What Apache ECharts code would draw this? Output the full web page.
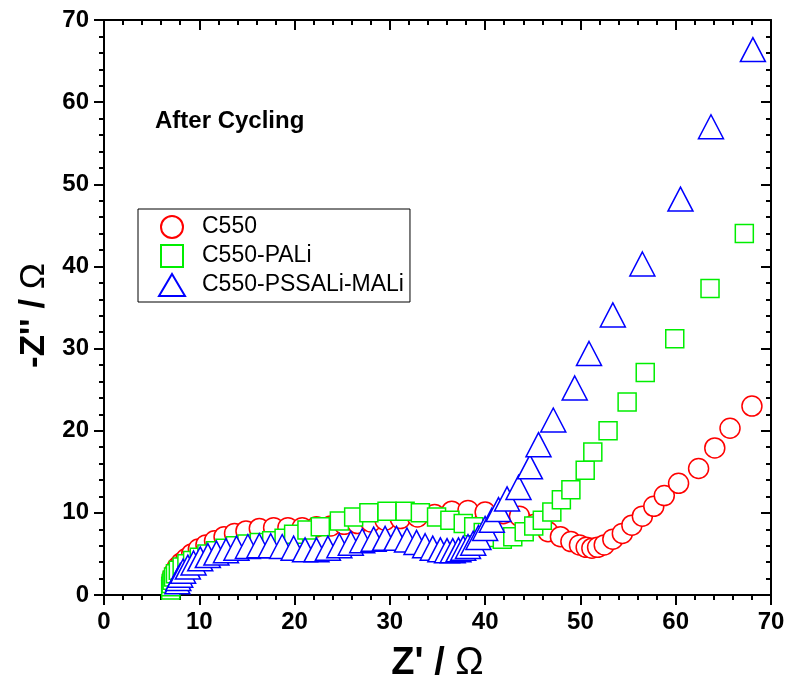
<!DOCTYPE html>
<html>
<head>
<meta charset="utf-8">
<style>
  html, body { margin: 0; background: #fff; }
  #container { width: 793px; height: 684px; }
</style>
</head>
<body>
<div id="container"></div>
<script src="https://cdn.jsdelivr.net/npm/echarts@6/dist/echarts.min.js"></script>
<script>
// series names (legend order)
var seriesNames = ['C550', 'C550-PALi', 'C550-PSSALi-MALi'];

// Nyquist data: [Z', -Z'']
var c550 = [
  [7.1, 1.8], [7.2, 2.3], [7.4, 2.8], [7.7, 3.4], [8.1, 3.9], [8.6, 4.4], [9.2, 5.0],
  [9.9, 5.6], [10.7, 6.1], [11.6, 6.6], [12.6, 7.1], [13.7, 7.5], [14.9, 7.8], [16.3, 8.1],
  [17.8, 8.2], [19.3, 8.2], [20.8, 8.2], [22.3, 8.3], [23.8, 8.4], [25.2, 8.6], [26.6, 8.7],
  [28.0, 8.9], [29.5, 9.1], [31.1, 9.3], [32.9, 9.5], [34.7, 9.8], [36.5, 10.2], [38.2, 10.3],
  [40.0, 10.1], [41.9, 9.9], [43.6, 9.6], [45.2, 8.6], [46.6, 7.7], [47.9, 7.1], [49.0, 6.5],
  [49.9, 6.1], [50.6, 5.8], [51.2, 5.7], [51.8, 5.8], [52.5, 6.1], [53.4, 6.8], [54.4, 7.5],
  [55.4, 8.5], [56.5, 9.6], [57.7, 10.8], [58.8, 12.1], [60.3, 13.6], [62.4, 15.4],
  [64.1, 17.9], [65.7, 20.3], [68.0, 23.0]
];
var c550PALi = [
  [7.0, 0.6], [7.0, 1.0], [7.05, 1.4], [7.15, 1.8], [7.3, 2.2], [7.5, 2.6], [7.8, 3.0],
  [8.2, 3.4], [8.7, 3.8], [9.3, 4.2], [10.0, 4.6], [10.8, 5.0], [11.7, 5.4], [12.7, 5.7],
  [13.8, 6.0], [15.0, 6.2], [16.3, 6.4], [17.6, 6.6], [18.9, 6.9], [19.9, 7.4], [21.3, 7.9],
  [22.7, 8.3], [24.7, 9.0], [26.2, 9.5], [27.8, 10.0], [29.7, 10.2], [31.6, 10.2], [33.2, 10.0],
  [34.9, 9.5], [36.3, 9.1], [37.7, 8.7], [38.8, 8.3], [39.8, 7.6], [40.8, 7.0], [41.8, 6.8],
  [42.9, 7.1], [44.1, 7.7], [45.1, 8.4], [46.0, 9.1], [47.0, 10.1], [48.0, 11.6],
  [49.0, 12.8], [50.5, 15.2], [51.3, 17.4], [52.9, 20.0], [54.9, 23.5], [56.8, 27.1],
  [59.9, 31.2], [63.6, 37.3], [67.2, 44.0]
];
var c550PSSALi = [
  [7.7, 1.6], [7.8, 2.0], [8.0, 2.4], [8.3, 2.9], [8.8, 3.4], [9.4, 3.9], [10.1, 4.4],
  [10.9, 4.8], [11.8, 5.1], [12.8, 5.4], [13.9, 5.7], [15.1, 5.9], [16.3, 6.0], [17.5, 6.0],
  [18.7, 5.9], [19.9, 5.7], [21.1, 5.5], [22.3, 5.5], [23.5, 5.7], [24.7, 6.0], [25.9, 6.3],
  [27.1, 6.6], [28.3, 6.8], [29.5, 6.9], [30.7, 6.9], [31.8, 6.7], [32.8, 6.4], [33.7, 6.0],
  [34.5, 5.7], [35.3, 5.5], [36.0, 5.4], [36.6, 5.4], [37.2, 5.5], [37.7, 5.7], [38.2, 5.9],
  [38.75, 6.3], [39.3, 7.0], [40.0, 8.1], [40.7, 9.1], [41.4, 10.4], [42.3, 11.7],
  [43.5, 13.1], [44.7, 15.6], [45.6, 18.3], [47.15, 21.3], [49.4, 25.2], [50.9, 29.4],
  [53.4, 34.1], [56.5, 40.3], [60.5, 48.2], [63.7, 57.0], [68.1, 66.4]
];

var chart = echarts.init(document.getElementById('container'), null, { renderer: 'canvas' });
var font = '"Liberation Sans", Arial, sans-serif';

// one axis of the box frame; labelled axes have ticks outside, mirrored ones inside
function frameAxis(pos, labelled, extra) {
  var ax = {
    type: 'value',
    position: pos,
    min: 0,
    max: 70,
    interval: 10,
    axisLine: { show: true, onZero: false, lineStyle: { color: '#000', width: 2 } },
    axisTick: { show: true, inside: !labelled, length: 10, lineStyle: { color: '#000', width: 2 } },
    minorTick: { show: true, splitNumber: 5, length: 5, lineStyle: { color: '#000', width: 2 } },
    splitLine: { show: false },
    axisLabel: {
      show: labelled,
      margin: 15,
      color: '#000',
      fontFamily: font,
      fontWeight: 'bold',
      fontSize: 24
    }
  };
  return Object.assign(ax, extra || {});
}

function scatter(name, data, symbol, size, color) {
  return {
    name: name,
    type: 'scatter',
    data: data,
    symbol: symbol,
    symbolSize: size,
    itemStyle: { color: '#fff', borderColor: color, borderWidth: 1.5, opacity: 1 },
    emphasis: { disabled: true },
    animation: false
  };
}

var option = {
  backgroundColor: '#fff',
  animation: false,
  grid: { left: 104, right: 22, top: 20, bottom: 89, containLabel: false, outerBoundsMode: 'none' },
  xAxis: [
    frameAxis('bottom', true, {
      name: "{b|Z' / }{o|Ω}",
      nameLocation: 'middle',
      nameGap: 50,
      nameTextStyle: {
        rich: {
          b: { fontFamily: font, fontWeight: 'bold', fontSize: 38, color: '#000' },
          o: { fontFamily: font, fontSize: 38, color: '#000' }
        }
      }
    }),
    frameAxis('top', false)
  ],
  yAxis: [
    frameAxis('left', true, {
      name: "{b|-Z'' / }{o|Ω}",
      nameLocation: 'middle',
      nameGap: 52,
      nameRotate: 90,
      nameTextStyle: {
        padding: [0, 16, 0, 0],
        rich: {
          b: { fontFamily: font, fontWeight: 'bold', fontSize: 35, color: '#000' },
          o: { fontFamily: font, fontSize: 35, color: '#000' }
        }
      }
    }),
    frameAxis('right', false)
  ],
  legend: {
    orient: 'vertical',
    left: 138,
    top: 209,
    padding: [6, 6, 5, 20],
    itemGap: 5,
    itemWidth: 26,
    itemHeight: 22,
    borderColor: '#000',
    borderWidth: 1,
    selectedMode: false,
    textStyle: { fontFamily: font, fontSize: 23, color: '#000', padding: [0, 0, 0, 12] },
    data: [
      { name: seriesNames[0], icon: 'circle' },
      { name: seriesNames[1], icon: 'path://M0,0L18,0L18,18L0,18Z' },
      { name: seriesNames[2], icon: 'triangle' }
    ]
  },
  graphic: [{
    type: 'text',
    left: 155,
    top: 109,
    style: { text: 'After Cycling', font: 'bold 24px ' + font, fill: '#000' }
  }],
  series: [
    scatter(seriesNames[0], c550, 'circle', 20, '#ff0000'),
    scatter(seriesNames[1], c550PALi, 'rect', 18, '#00ee00'),
    scatter(seriesNames[2], c550PSSALi, 'triangle', [25, 24], '#0000ff')
  ]
};

chart.setOption(option);
window.addEventListener('resize', chart.resize);
</script>
</body>
</html>
